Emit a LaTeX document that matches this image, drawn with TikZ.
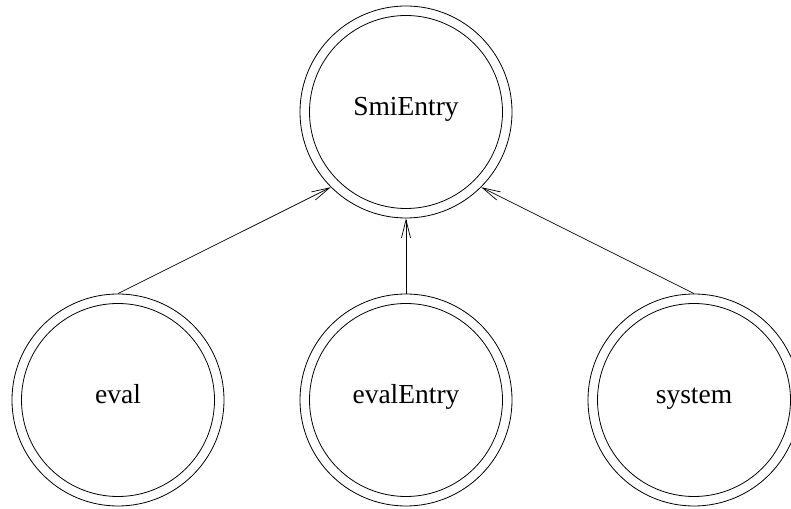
\documentclass[tikz,border=0pt]{standalone}
\usepackage{fontspec}
\setmainfont{Liberation Serif}
\usetikzlibrary{arrows.meta}
\begin{document}
\begin{tikzpicture}[x=1pt,y=1pt,
  state/.style={circle,draw=black,line width=0.8pt,minimum size=212pt,inner sep=0pt,
    font=\fontsize{27.5}{32}\selectfont,text height=17pt,text depth=9pt,
    path picture={\draw[line width=0.8pt] (path picture bounding box.center) circle (96.5pt);}},
  link/.style={line width=0.7pt,-{Straight Barb[length=18pt,width=9pt,line width=0.7pt]}}]
  \useasboundingbox (0,0) rectangle (791,508);
  % top node and the three callers below it
  \node[state] (smi) at (406,396) {SmiEntry};
  \node[state] (eval) at (118,108) {eval};
  \node[state] (evalentry) at (406,108) {evalEntry};
  \node[state] (system) at (694,108) {system};
  % call links
  \draw[link] (eval.north) -- (smi.225);
  \draw[link] (evalentry.north) -- (smi.south);
  \draw[link] (system.north) -- (smi.-45);
\end{tikzpicture}
\end{document}
